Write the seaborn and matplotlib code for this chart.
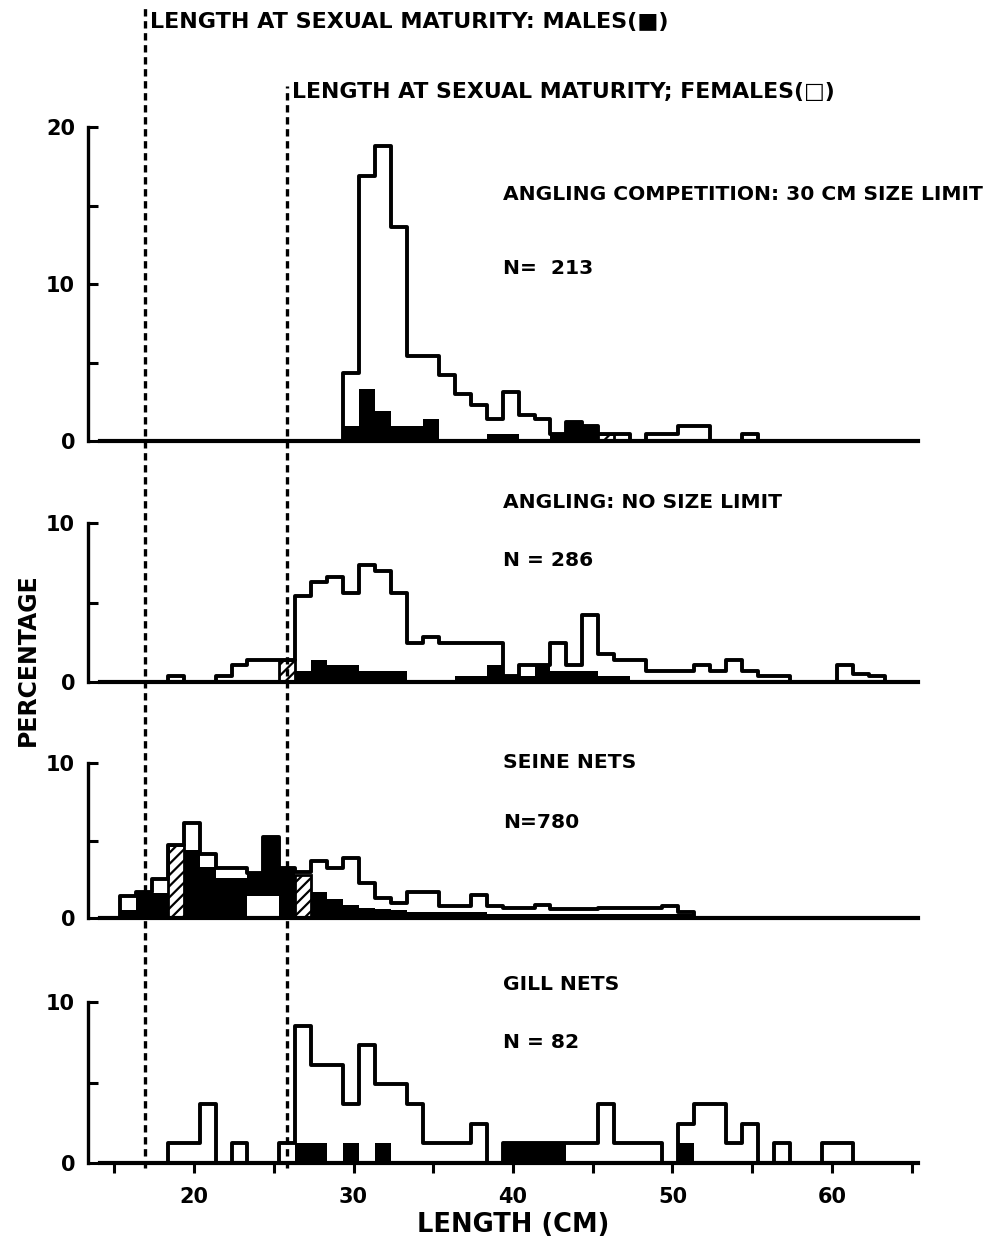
import numpy as np
import pandas as pd
import matplotlib
matplotlib.use("Agg")
import matplotlib.pyplot as plt
import seaborn as sns

# percentage of fish per 1 cm length class, lists start at *_start (cm)
# angling competition, 30 cm size limit (N=213)
comp_start = 29
comp_total = [4.3, 16.9, 18.8, 13.6, 5.4, 5.4, 4.2, 3.0, 2.3, 1.4, 3.1, 1.65, 1.4,
              0.47, 1.2, 0.94, 0.47, 0.47, 0, 0.47, 0.47, 0.94, 0.94, 0, 0, 0.47]
comp_male = [0.94, 3.3, 1.9, 0.94, 0.94, 1.4, 0, 0, 0, 0.47, 0.47, 0, 0,
             0.47, 1.2, 0.94, 0, 0, 0, 0, 0, 0, 0, 0, 0, 0]
comp_hatch = [0, 0, 0, 0, 0, 0, 0, 0, 0, 0, 0, 0, 0,
              0, 0, 0, 0.47, 0, 0, 0, 0, 0, 0, 0, 0, 0]

# angling, no size limit (N=286)
angl_start = 18
angl_total = [0.35, 0, 0, 0.35, 1.05, 1.4, 1.4, 1.4, 5.4, 6.3, 6.6, 5.6, 7.35, 7.0,
              5.6, 2.45, 2.8, 2.45, 2.45, 2.45, 2.45, 0.35, 1.05, 1.05, 2.45, 1.05,
              4.2, 1.75, 1.4, 1.4, 0.7, 0.7, 0.7, 1.05, 0.7, 1.4, 0.7, 0.35, 0.35, 0,
              0, 0, 1.05, 0.5, 0.35, 0]
angl_male = [0, 0, 0, 0, 0, 0, 0, 0, 0.7, 1.4, 1.05, 1.05, 0.7, 0.7,
             0.7, 0, 0, 0, 0.35, 0.35, 1.05, 0.35, 0.35, 1.05, 0.7, 0.7,
             0.7, 0.35, 0.35, 0, 0, 0, 0, 0, 0, 0, 0, 0, 0, 0,
             0, 0, 0, 0, 0, 0]
angl_hatch = [0, 0, 0, 0, 0, 0, 0, 1.4, 0, 0, 0, 0, 0, 0,
              0, 0, 0, 0, 0, 0, 0, 0, 0, 0, 0, 0,
              0, 0, 0, 0, 0, 0, 0, 0, 0, 0, 0, 0, 0, 0,
              0, 0, 0, 0, 0, 0]

# seine nets (N=780)
seine_start = 15
seine_total = [1.4, 1.7, 2.5, 4.7, 6.1, 4.1, 3.2, 3.2, 2.9, 5.2, 3.2, 3.0, 3.65, 3.2,
               3.9, 2.25, 1.3, 0.95, 1.7, 1.7, 0.75, 0.75, 1.5, 0.75, 0.65, 0.65,
               0.85, 0.55, 0.55, 0.55, 0.65, 0.65, 0.65, 0.65, 0.75, 0.4]
seine_male = [0.5, 1.7, 1.6, 0, 4.4, 3.3, 2.6, 2.6, 2.9, 5.2, 3.2, 0, 1.7, 1.2,
              0.85, 0.65, 0.6, 0.5, 0.4, 0.4, 0.4, 0.4, 0.4, 0.25, 0.25, 0.25,
              0.25, 0.25, 0.25, 0.25, 0.25, 0.25, 0.25, 0.25, 0.25, 0.25]
seine_hatch = [0, 0, 0, 4.7, 0, 0, 0, 0, 0, 0, 0, 2.8, 0, 0,
               0, 0, 0, 0, 0, 0, 0, 0, 0, 0, 0, 0,
               0, 0, 0, 0, 0, 0, 0, 0, 0, 0]
# females drawn below the males in a few classes
seine_female_low = [0, 0, 0, 0, 0, 0, 0, 0, 1.4, 1.4, 0, 0, 0, 0,
                    0, 0, 0, 0, 0, 0, 0, 0, 0, 0, 0, 0,
                    0, 0, 0, 0, 0, 0, 0, 0, 0, 0]

# gill nets (N=82)
gill_start = 18
gill_total = [1.22, 1.22, 3.66, 0, 1.22, 0, 0, 1.22, 8.54, 6.1, 6.1, 3.66, 7.32, 4.88,
              4.88, 3.66, 1.22, 1.22, 1.22, 2.44, 0, 1.22, 1.22, 1.22, 1.22, 1.22,
              1.22, 3.66, 1.22, 1.22, 1.22, 0, 2.44, 3.66, 3.66, 1.22, 2.44, 0,
              1.22, 0, 0, 1.22, 1.22, 0]
gill_male = [0, 0, 0, 0, 0, 0, 0, 0, 1.22, 1.22, 0, 1.22, 0, 1.22,
             0, 0, 0, 0, 0, 0, 0, 1.22, 1.22, 1.22, 1.22, 0,
             0, 0, 0, 0, 0, 0, 1.22, 0, 0, 0, 0, 0,
             0, 0, 0, 0, 0, 0]
gill_hatch = [0, 0, 0, 0, 0, 0, 0, 0, 0, 0, 0, 0, 0, 0,
              0, 0, 0, 0, 0, 0, 0, 0, 0, 0, 0, 0,
              0, 0, 0, 0, 0, 0, 0, 0, 0, 0, 0, 0,
              0, 0, 0, 0, 0, 0]

panel_titles = ["ANGLING COMPETITION: 30 CM SIZE LIMIT", "ANGLING: NO SIZE LIMIT",
                "SEINE NETS", "GILL NETS"]
panel_n = ["N=  213", "N = 286", "N=780", "N = 82"]
male_maturity = 16.95
female_maturity = 25.8

sns.set_theme(style="ticks")
plt.rcParams['font.family'] = ['DejaVu Sans']
plt.rcParams['font.weight'] = 'bold'
plt.rcParams['hatch.linewidth'] = 1.6
plt.rcParams['hatch.color'] = 'black'
for key in ['text.color', 'axes.labelcolor', 'axes.edgecolor', 'xtick.color', 'ytick.color']:
    plt.rcParams[key] = 'black'

W, H = 1001, 1245
OFFSET = 0.35
XMIN, XMAX = 14.1, 65.4
fig = plt.figure(figsize=(W / 100, H / 100), dpi=100)
ax_left, ax_right = 100 / W, 918 / W

# (pixel y of 0, pixel y of top, ymax, title y px, N y px)
layout = [(441, 127, 20, 195, 268),
          (682, 523, 10, 503, 560),
          (918, 763, 10, 763, 822),
          (1163, 1002, 10, 985, 1043)]
data = [(comp_start, comp_total, comp_male, comp_hatch, None),
        (angl_start, angl_total, angl_male, angl_hatch, None),
        (seine_start, seine_total, seine_male, seine_hatch, seine_female_low),
        (gill_start, gill_total, gill_male, gill_hatch, None)]


def draw_panel(ax, start, total, male, hatch, female_low):
    n = len(total)
    df = pd.DataFrame({"center": np.arange(start, start + n) + OFFSET + 0.5,
                       "total": total, "male": male, "hatch": hatch})
    rng = (start - 1 + OFFSET, start + n + 1 + OFFSET)
    sns.histplot(data=df, x="center", weights="male", binwidth=1, binrange=rng,
                 element="step", fill=True, color="black", alpha=1, linewidth=0, ax=ax)
    if female_low is not None:
        df["female_low"] = female_low
        sns.histplot(data=df, x="center", weights="female_low", binwidth=1, binrange=rng,
                     element="step", fill=True, color="white", alpha=1, linewidth=0, ax=ax)
    sns.histplot(data=df, x="center", weights="hatch", binwidth=1, binrange=rng,
                 element="bars", fill=True, color="white", alpha=1, edgecolor="black",
                 linewidth=2, hatch="///", ax=ax)
    sns.histplot(data=df, x="center", weights="total", binwidth=1, binrange=rng,
                 element="step", fill=False, color="black", linewidth=2.8, ax=ax)


for i, ((y0, y1, ymax, ty, ny), (start, total, male, hatch, flow)) in enumerate(zip(layout, data)):
    ax = fig.add_axes([ax_left, 1 - y0 / H, ax_right - ax_left, (y0 - y1) / H])
    ax.patch.set_alpha(0)
    draw_panel(ax, start, total, male, hatch, flow)
    ax.set_xlim(XMIN, XMAX)
    ax.set_ylim(0, ymax)
    ax.set(xlabel="", ylabel="")
    sns.despine(ax=ax)
    ax.spines['left'].set_position(('outward', 9))
    ax.spines['left'].set_bounds(0, ymax)
    ax.spines['left'].set_linewidth(2.4)
    ax.spines['bottom'].set_linewidth(3)
    ax.set_yticks(np.arange(0, ymax + 1, 10))
    ax.set_yticks(np.arange(5, ymax, 10), minor=True)
    ax.tick_params(axis='y', which='both', direction='in', length=7, width=2.2,
                   labelsize=15, pad=9)
    if i < 3:
        ax.tick_params(axis='x', which='both', bottom=False, labelbottom=False)
    else:
        ax.set_xticks([20, 30, 40, 50, 60])
        ax.set_xticks([15, 25, 35, 45, 55, 65], minor=True)
        ax.tick_params(axis='x', which='both', direction='out', length=7, width=2.2,
                       labelsize=15, pad=10)
    for lab in ax.get_xticklabels() + ax.get_yticklabels():
        lab.set_fontweight('bold')
    fig.text(503 / W, 1 - ty / H, panel_titles[i], fontsize=14.6, fontweight='bold',
             ha='left', va='center')
    fig.text(503 / W, 1 - ny / H, panel_n[i], fontsize=14.6, fontweight='bold',
             ha='left', va='center')

# maturity lines through all panels
ov = fig.add_axes([ax_left, 0, ax_right - ax_left, 1])
ov.set_xlim(XMIN, XMAX)
ov.set_ylim(0, 1)
ov.axis('off')
ov.axvline(male_maturity, ymin=1 - 1168 / H, ymax=1 - 8 / H, color='black',
           linewidth=2.4, linestyle=(0, (2.2, 1.4)))
ov.axvline(female_maturity, ymin=1 - 1168 / H, ymax=1 - 86 / H, color='black',
           linewidth=2.4, linestyle=(0, (2.2, 1.4)))

fig.text(150 / W, 1 - 22 / H, "LENGTH AT SEXUAL MATURITY: MALES(\u25a0)", fontsize=16,
         fontweight='bold', ha='left', va='center')
fig.text(292 / W, 1 - 92 / H, "LENGTH AT SEXUAL MATURITY; FEMALES(\u25a1)", fontsize=15.8,
         fontweight='bold', ha='left', va='center')
fig.text(28 / W, 1 - 660 / H, "PERCENTAGE", rotation=90, fontsize=17,
         fontweight='bold', ha='center', va='center')
fig.text(513 / W, 1 - 1225 / H, "LENGTH (CM)", fontsize=18.5,
         fontweight='bold', ha='center', va='center')

fig.savefig("out.png", dpi=100, facecolor="white")
